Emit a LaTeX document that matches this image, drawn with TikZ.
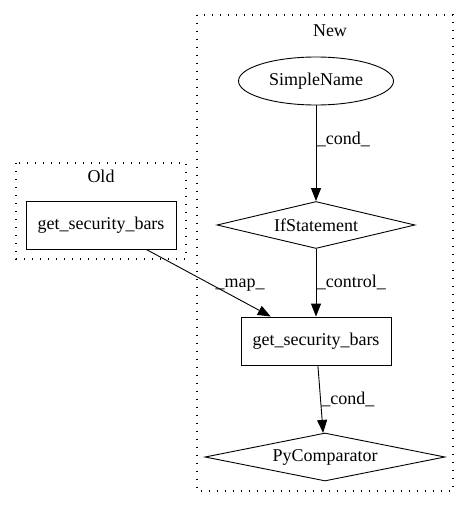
\documentclass[tikz,border=0pt]{standalone}
\usepackage{fontspec}
\setmainfont{Liberation Serif}
\usetikzlibrary{shapes.geometric,arrows.meta}
\begin{document}
\begin{tikzpicture}[
    x = 1pt, y = -1pt,
    font = \fontsize{18}{21}\selectfont,
    every path/.style = {line width = 0.9pt},
    cluster/.style = {line width = 1.2pt, dash pattern = on 1.4pt off 6.6pt},
    box/.style = {draw, rectangle, minimum width = 150pt, minimum height = 48pt, inner sep = 0pt},
    oval/.style = {draw, ellipse, minimum width = 155pt, minimum height = 48pt, inner sep = 0pt},
    rhomb/.style = {draw, diamond, aspect = 5, inner sep = 0pt},
    edge/.style = {-{Triangle[length = 13pt, width = 10pt]}}
  ]
  \useasboundingbox (0, 0) rectangle (469, 508);
  % clusters
  \draw[cluster] (16, 163) rectangle (186, 259);
  \draw[cluster] (197, 15) rectangle (453, 491);
  \node (old) at (101, 176) {Old};
  \node (new) at (330, 31) {New};
  % nodes
  \node[box]   (oldbars) at (101, 225) {get\_security\_bars};
  \node[oval]  (name)    at (316, 81)  {SimpleName};
  \node[rhomb, minimum width = 198pt, minimum height = 47pt] (if)  at (316, 225) {IfStatement};
  \node[box]   (newbars) at (316, 341) {get\_security\_bars};
  \node[rhomb, minimum width = 240pt, minimum height = 48pt] (cmp) at (325, 457) {PyComparator};
  % edges
  \draw[edge] (name)    -- node[pos = 0.36, anchor = west, inner sep = 0.5pt] {\_cond\_} (if);
  \draw[edge] (if)      -- node[pos = 0.5, anchor = west, inner sep = 0.5pt] {\_control\_} (newbars);
  \draw[edge] (oldbars) -- node[pos = 0.53, anchor = west, inner sep = 3pt] {\_map\_} (newbars);
  \draw[edge] (newbars) -- node[pos = 0.5, anchor = west, inner sep = 0.5pt] {\_cond\_} (cmp);
\end{tikzpicture}
\end{document}
